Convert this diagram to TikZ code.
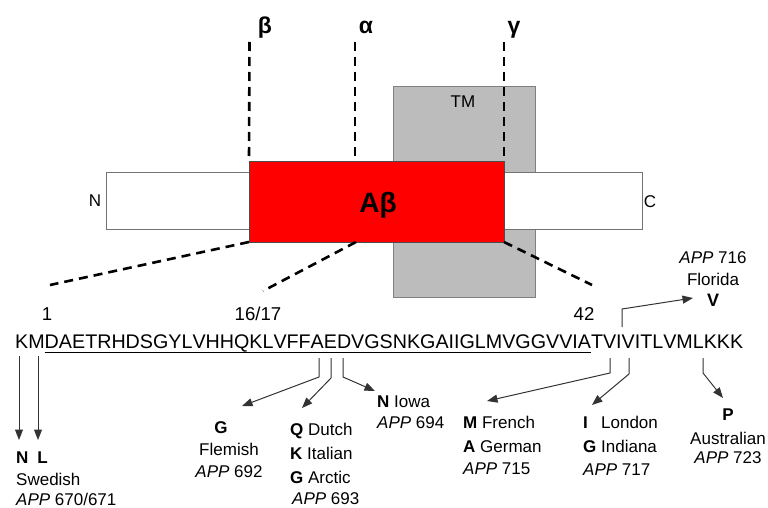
\documentclass[tikz,border=0pt]{standalone}
\usepackage{fontspec}
\setmainfont{Liberation Sans}
\newfontfamily\seqfont[Kerning=Off]{Liberation Sans}
\usetikzlibrary{arrows.meta}
\definecolor{tmgrey}{RGB}{188,188,188}
\definecolor{tmedge}{RGB}{128,128,128}
\definecolor{abred}{RGB}{255,0,0}
\begin{document}
\begin{tikzpicture}[x=1pt,y=-1pt,
  lab/.style={inner sep=0pt, font=\fontsize{17}{20}\selectfont},
  num/.style={inner sep=0pt, anchor=base, font=\fontsize{18.6}{21}\selectfont},
  greek/.style={inner sep=0pt, anchor=base, font=\fontsize{23}{26}\selectfont\bfseries},
  conn/.style={draw=black!80, line width=1pt, -{Triangle[length=10.5pt,width=8pt]}},
  cut/.style={line width=2.6pt, dash pattern=on 9pt off 6pt},
  box/.style={inner sep=0pt, outer sep=0pt, anchor=north west, line width=0.8pt}]
\useasboundingbox (0,0) rectangle (768,508);

% domain boxes
\node[box, draw=tmedge, fill=tmgrey, minimum width=142pt, minimum height=211pt] (tm) at (393,86) {};
\node[box, draw=black!55, fill=white, minimum width=536pt, minimum height=57pt] (bar) at (106,172) {};
\node[box, draw=black!70, fill=abred, minimum width=255pt, minimum height=81pt] (ab) at (249,161) {};

\node[inner sep=0pt, font=\fontsize{17}{20}\selectfont] (tml) at (463,102) {TM};
\node[inner sep=0pt, font=\fontsize{17}{20}\selectfont] (nl) at (95,201) {N};
\node[inner sep=0pt, font=\fontsize{17}{20}\selectfont] (cl) at (650,202) {C};
\node[inner sep=0pt, font=\fontsize{28}{31}\selectfont\bfseries] (abl) at (378,205) {Aβ};

% secretase cut sites
\node[greek] (beta) at (265,34) {β};
\node[greek] (alpha) at (366,34) {α};
\node[greek] (gamma) at (514,34) {γ};
\coordinate (btop) at (249.5,42);
\coordinate (atop) at (355,42);
\coordinate (abot) at (355,161);
\coordinate (gtop) at (504,42);
\draw[cut] (btop) -- (ab.north west);
\draw[cut] (atop) -- (abot);
\draw[cut] (gtop) -- (ab.north east);

% zoom lines
\coordinate (z1) at (50,285);
\coordinate (z2m) at (356,242);
\coordinate (z2) at (263,291);
\coordinate (z3) at (592,285);
\draw[cut] (ab.south west) -- (z1);
\draw[cut] (z2m) -- (z2);
\draw[cut] (ab.south east) -- (z3);

% sequence
\node[num] (n1) at (47,320.7) {1};
\node[num] (n16) at (258,320.7) {16/17};
\node[num] (n42) at (584,320.7) {42};
\node[inner sep=0pt, anchor=base west, font=\seqfont\fontsize{19.7}{22}\selectfont] (seq) at (15,348)
  {KMDAETRHDSGYLVHHQKLVFFAEDVGSNKGAIIGLMVGGVVIATVIVITLVMLKKK};
\coordinate (ul1) at (44.5,352);
\coordinate (ul2) at (591,352);
\draw[line width=1pt] (ul1) -- (ul2);

% mutation connectors
\coordinate (sK) at (19,356);   \coordinate (tK) at (19,440);
\coordinate (sM) at (38,356);   \coordinate (tM) at (38,440);
\draw[conn] (sK) -- (tK);
\draw[conn] (sM) -- (tM);

\coordinate (sA21) at (319,358); \coordinate (bA21) at (319,377); \coordinate (tA21) at (242,406);
\coordinate (sE22) at (331,358); \coordinate (bE22) at (331,378); \coordinate (tE22) at (302,408);
\coordinate (sD23) at (343,358); \coordinate (bD23) at (343,377); \coordinate (tD23) at (375,391);
\draw[conn] (sA21) -- (bA21) -- (tA21);
\draw[conn] (sE22) -- (bE22) -- (tE22);
\draw[conn] (sD23) -- (bD23) -- (tD23);

\coordinate (sV44) at (610,358); \coordinate (bV44) at (610,373); \coordinate (tV44) at (487,401);
\coordinate (sV46) at (629,358); \coordinate (bV46) at (629,374); \coordinate (tV46) at (592,405);
\coordinate (sL52) at (703,358); \coordinate (bL52) at (703,373); \coordinate (tL52) at (723,398);
\coordinate (sI45) at (622,327); \coordinate (bI45) at (622,309); \coordinate (tI45) at (693,298);
\draw[conn] (sV44) -- (bV44) -- (tV44);
\draw[conn] (sV46) -- (bV46) -- (tV46);
\draw[conn] (sL52) -- (bL52) -- (tL52);
\draw[conn] (sI45) -- (bI45) -- (tI45);

% labels: Swedish
\node[lab, anchor=base west] (swe1) at (16,463) {\bfseries N\hspace{9pt}L};
\node[lab, anchor=base west] (swe2) at (16,485) {Swedish};
\node[lab, anchor=base west] (swe3) at (16,505) {\textit{APP} 670/671};
% Flemish
\node[lab, anchor=base] (fle1) at (221,433) {\bfseries G};
\node[lab, anchor=base] (fle2) at (229,455) {Flemish};
\node[lab, anchor=base] (fle3) at (229,477) {\textit{APP} 692};
% Dutch / Italian / Arctic
\node[lab, anchor=base west] (dut1) at (290,435) {\textbf{Q} Dutch};
\node[lab, anchor=base west] (dut2) at (290,459) {\textbf{K} Italian};
\node[lab, anchor=base west] (dut3) at (290,483) {\textbf{G} Arctic};
\node[lab, anchor=base west] (dut4) at (292,504) {\textit{APP} 693};
% Iowa
\node[lab, anchor=base west] (iow1) at (377,407) {\textbf{N} Iowa};
\node[lab, anchor=base west] (iow2) at (377,428) {\textit{APP} 694};
% French / German
\node[lab, anchor=base west] (fre1) at (463,428) {\textbf{M} French};
\node[lab, anchor=base west] (fre2) at (463,452) {\textbf{A} German};
\node[lab, anchor=base west] (fre3) at (463,474) {\textit{APP} 715};
% London / Indiana
\node[lab, anchor=base west] (lon1) at (583,428) {\rlap{\bfseries I}\phantom{\bfseries G} London};
\node[lab, anchor=base west] (lon2) at (583,452) {\textbf{G} Indiana};
\node[lab, anchor=base west] (lon3) at (583,475) {\textit{APP} 717};
% Australian
\node[lab, anchor=base] (aus1) at (728,420) {\bfseries P};
\node[lab, anchor=base] (aus2) at (728,444) {Australian};
\node[lab, anchor=base] (aus3) at (728,463) {\textit{APP} 723};
% Florida
\node[lab, anchor=base] (flo1) at (713,263) {\textit{APP} 716};
\node[lab, anchor=base] (flo2) at (713,285) {Florida};
\node[lab, anchor=base, font=\fontsize{18}{21}\selectfont\bfseries] (flo3) at (713,306) {V};
\end{tikzpicture}
\end{document}
